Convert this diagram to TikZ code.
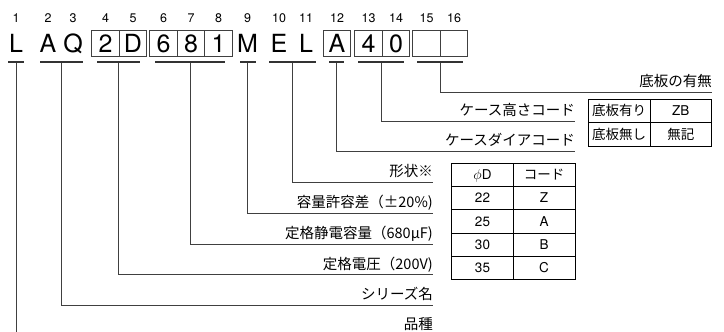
\documentclass[tikz,border=0pt]{standalone}
\usepackage{fontspec}
\setmainfont{TeX Gyre Heros}
\newfontfamily\jpfont{Noto Sans CJK JP}
\usetikzlibrary{positioning}

\begin{document}
\begin{tikzpicture}[
    x=1pt, y=-1pt,
    chr/.style={inner sep=0pt, outer sep=0pt, minimum width=27.5pt, minimum height=26.5pt, text height=17.5pt, text depth=0pt, font=\fontsize{25pt}{27pt}\selectfont},
    codebox/.style={chr, draw=black!75, line width=0.8pt},
    num/.style={anchor=base, inner sep=0pt, font=\fontsize{12.5pt}{14pt}\selectfont},
    bar/.style={fill=black!80, inner sep=0pt, minimum height=2pt},
    lead/.style={draw=black!75, line width=0.8pt},
    lbl/.style={anchor=base east, inner sep=0pt, font=\jpfont\fontsize{14.5pt}{16pt}\selectfont},
    tcell/.style={draw=black, line width=0.8pt, inner sep=0pt, outer sep=0pt, minimum width=61.6pt, minimum height=23.3pt, text height=9.5pt, text depth=0pt, font=\fontsize{13.5pt}{15pt}\selectfont},
    tjp/.style={font=\jpfont\fontsize{13.5pt}{15pt}\selectfont}
]
\useasboundingbox (0,0) rectangle (724,332);

% Code characters (y = 43.5)
\node[chr] (c1) at (16,43.5) {L};
\node[chr] (c2) at (48,43.5) {A};
\node[chr] (c3) at (73,43.5) {Q};
\node[codebox] (c4) at (105.5,43.5) {2};
\node[codebox, right=0pt of c4] (c5) {D};
\node[codebox] (c6) at (163.5,43.5) {6};
\node[codebox, right=0pt of c6] (c7) {8};
\node[codebox, right=0pt of c7] (c8) {1};
\node[chr] (c9) at (247.5,43.5) {M};
\node[chr] (c10) at (279,43.5) {E};
\node[chr] (c11) at (306,43.5) {L};
\node[codebox] (c12) at (337,43.5) {A};
\node[codebox] (c13) at (368.5,43.5) {4};
\node[codebox, right=0pt of c13] (c14) {0};
\node[codebox] (c15) at (426.5,43.5) {};
\node[codebox, right=0pt of c15] (c16) {};

% Digit positions
\coordinate (numrow) at (0,22.5);
\foreach \i in {1,...,16}
    \node[num] (n\i) at (c\i |- numrow) {\i};

% Group bars (y = 62)
\node[bar, minimum width=16pt] (b1) at (16,62) {};
\node[bar, minimum width=43pt] (b2) at (61.5,62) {};
\node[bar, minimum width=43pt] (b3) at (118.5,62) {};
\node[bar, minimum width=70pt] (b4) at (190,62) {};
\node[bar, minimum width=16pt] (b5) at (247.5,62) {};
\node[bar, minimum width=47pt] (b6) at (292.5,62) {};
\node[bar, minimum width=15pt] (b7) at (336.5,62) {};
\node[bar, minimum width=46pt] (b8) at (381,62) {};
\node[bar, minimum width=46pt] (b9) at (440,62) {};

% Line ends
\coordinate (e1) at (16,332);
\coordinate (e2) at (433,305);
\coordinate (e3) at (433,274.5);
\coordinate (e4) at (433,244);
\coordinate (e5) at (433,213);
\coordinate (e6) at (433,182);
\coordinate (e7) at (575,151);
\coordinate (e8) at (575,121);
\coordinate (e9) at (712,92);

% Leaders
\draw[lead] (b1.south) -- (e1);
\foreach \i in {2,...,9}
    \draw[lead] (b\i.south) |- (e\i);

% Labels
\node[lbl] (l1) at (433,329.5) {品種};
\node[lbl] (l2) at ([yshift=5.5pt]e2) {シリーズ名};
\node[lbl] (l3) at ([yshift=5.5pt]e3) {定格電圧（200V)};
\node[lbl] (l4) at ([yshift=5.5pt]e4) {定格静電容量（680μF)};
\node[lbl] (l5) at ([yshift=5.5pt]e5) {容量許容差（±20\%)};
\node[lbl] (l6) at ([yshift=5.5pt]e6) {形状※};
\node[lbl] (l7) at ([yshift=5.5pt]e7) {ケースダイアコード};
\node[lbl] (l8) at ([yshift=5.5pt]e8) {ケース高さコード};
\node[lbl] (l9) at ([yshift=5.5pt]e9) {底板の有無};

% Base plate table
\node[tcell, tjp, minimum height=23.6pt] (t1a) at (619.2,110.8) {底板有り};
\node[tcell, minimum height=23.6pt, right=0pt of t1a] (t1b) {ZB};
\node[tcell, tjp, minimum height=23.6pt, below=0pt of t1a] (t2a) {底板無し};
\node[tcell, tjp, minimum height=23.6pt, right=0pt of t2a] (t2b) {無記};

% Case diameter table
\node[tcell] (dh) at (482.5,174.9) {$\phi$D};
\node[tcell, tjp, right=0pt of dh] (kh) {コード};
\node[tcell, below=0pt of dh] (d1) {22};
\node[tcell, right=0pt of d1] (k1) {Z};
\node[tcell, below=0pt of d1] (d2) {25};
\node[tcell, right=0pt of d2] (k2) {A};
\node[tcell, below=0pt of d2] (d3) {30};
\node[tcell, right=0pt of d3] (k3) {B};
\node[tcell, below=0pt of d3] (d4) {35};
\node[tcell, right=0pt of d4] (k4) {C};

\end{tikzpicture}
\end{document}
